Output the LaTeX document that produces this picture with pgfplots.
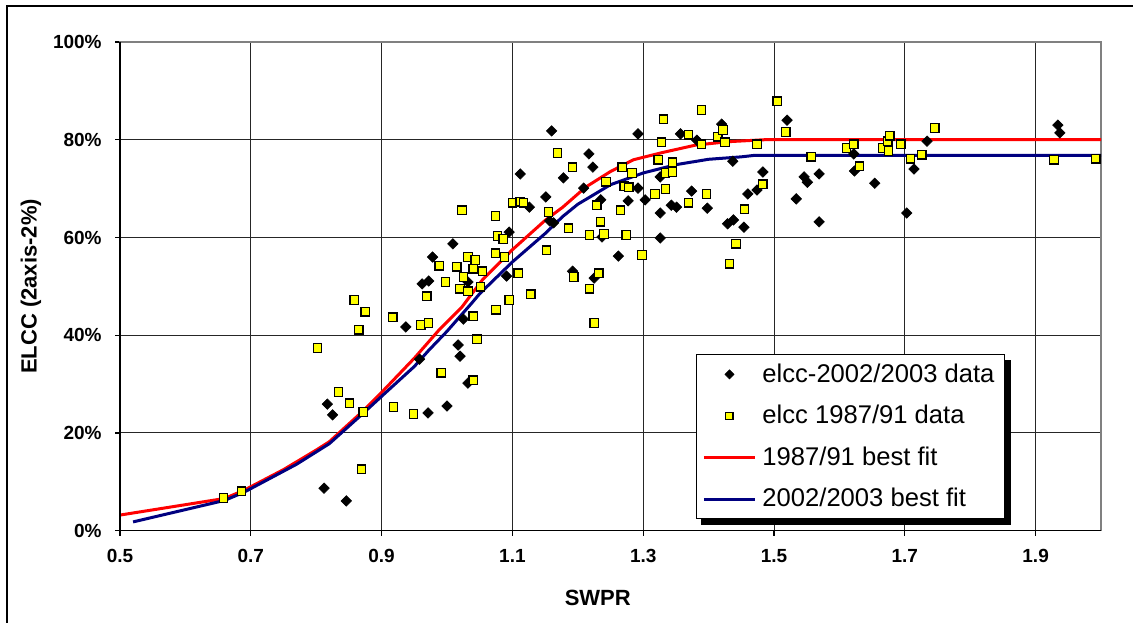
\documentclass[border=0pt]{standalone}
\usepackage{fontspec}
\setmainfont{Liberation Sans}
\usepackage{pgfplots}
\pgfplotsset{compat=1.18}

\definecolor{fitred}{RGB}{255,0,0}
\definecolor{fitblue}{RGB}{0,0,128}
\definecolor{mkyellow}{RGB}{255,255,0}

\begin{document}
\begin{tikzpicture}
\useasboundingbox (0,0) rectangle (566.5pt,311pt);
% chart area frame (only left and top edges are inside the picture)
\draw[line width=0.7pt] (3.5pt,-2pt) -- (3.5pt,308pt) -- (570pt,308pt);
\begin{axis}[
    at={(60pt,45.65pt)}, anchor=south west,
    scale only axis, width=490.5pt, height=244.35pt,
    xmin=0.5, xmax=2.0, ymin=0, ymax=100,
    xtick={0.5,0.7,0.9,1.1,1.3,1.5,1.7,1.9},
    ytick={0,20,40,60,80,100},
    yticklabel={\pgfmathprintnumber{\tick}\%},
    /pgf/number format/assume math mode=true,
    tick label style={font=\bfseries\fontsize{9.5}{11}\selectfont},
    xticklabel style={inner sep=0pt, anchor=north, yshift=-6.7pt},
    yticklabel style={inner sep=0pt, anchor=east, xshift=-6.5pt},
    tick align=outside, major tick length=2.5pt,
    xtick pos=bottom, ytick pos=left,
    tick style={black, line width=0.6pt},
    grid=major,
    major grid style={black!85, line width=0.5pt},
    axis line style={gray, line width=0.7pt},
    clip=false,
    xlabel={SWPR},
    ylabel={ELCC (2axis-2\%)},
    label style={font=\bfseries\fontsize{11}{13}\selectfont},
    xlabel style={at={(axis description cs:0.487,-0.1376)}, anchor=center},
    ylabel style={at={(axis description cs:-0.0907,0.5)}, anchor=center},
    legend image code/.code={\draw[mark repeat=2,mark phase=2,#1] plot coordinates {(0pt,0pt) (12.75pt,0pt) (25.5pt,0pt)};},
    legend style={name=leg, at={(0.587,0.3616)}, anchor=north west,
        draw=black, line width=0.6pt, fill=white,
        font=\fontsize{12.8}{15}\selectfont,
        inner xsep=3pt, inner ysep=2.5pt, row sep=6pt,
        cells={anchor=west},
        /tikz/every odd column/.append style={column sep=1pt}},
]

% 1987/91 best fit
\addplot[fitred, line width=1.5pt, forget plot] coordinates {
    (0.5,3.2) (0.66,6.6) (0.69,8.3) (0.75,12.5) (0.8,16.5) (0.82,18.2)
    (0.87,24.3) (0.9,28.3) (0.95,35.3) (0.988,41.1) (1.023,45.8) (1.054,51.3)
    (1.1,57.5) (1.15,63.5) (1.177,66.2) (1.212,70.3) (1.25,73.5) (1.285,75.9)
    (1.33,77.4) (1.38,78.9) (1.43,79.6) (1.485,80) (2.0,80)
};
% 2002/2003 best fit
\addplot[fitblue, line width=1.5pt, forget plot] coordinates {
    (0.52,1.8) (0.66,6.2) (0.69,7.9) (0.77,13.6) (0.82,17.8) (0.87,23.8)
    (0.9,27.5) (0.95,33.6) (0.972,36.9) (1.0,40.8) (1.038,46.6) (1.05,48.5)
    (1.1,55.0) (1.15,60.8) (1.177,64.3) (1.2,66.8) (1.25,70.8) (1.3,73.2)
    (1.35,74.9) (1.4,76.0) (1.45,76.5) (1.47,76.8) (2.0,76.8)
};

% elcc 2002/2003 data
\addplot[only marks, mark=square*, mark size=1.85pt,
    mark options={rotate=45, fill=black, draw=black, line width=0.3pt},
    legend image post style={mark size=1.6pt}] coordinates {
    (0.812,8.7) (0.846,6.1) (0.817,25.9) (0.825,23.7) (0.937,41.7) (0.958,35.1)
    (0.971,24.1) (1.000,25.5) (0.962,50.5) (0.972,51.1) (0.978,56.0) (1.009,58.7)
    (1.032,50.9) (1.025,43.3) (1.017,38.0) (1.020,35.7) (1.032,30.2) (1.091,52.1)
    (1.095,61.1) (1.112,73.0) (1.126,66.2) (1.151,68.3) (1.157,63.4) (1.163,63.0)
    (1.160,81.8) (1.178,72.2) (1.192,53.1) (1.217,77.1) (1.223,74.4) (1.225,51.7)
    (1.209,70.1) (1.235,67.7) (1.237,60.1) (1.262,56.2) (1.277,67.5) (1.292,70.1)
    (1.292,81.2) (1.303,67.7) (1.326,72.4) (1.326,65.0) (1.326,59.9) (1.343,66.6)
    (1.351,66.2) (1.357,81.2) (1.374,69.5) (1.382,79.9) (1.398,66.0) (1.420,83.2)
    (1.437,75.6) (1.429,62.8) (1.438,63.6) (1.454,62.1) (1.460,68.9) (1.474,69.7)
    (1.483,73.4) (1.520,84.0) (1.534,67.9) (1.546,72.4) (1.551,71.3) (1.569,73.0)
    (1.569,63.2) (1.622,77.1) (1.623,73.6) (1.654,71.1) (1.703,65.0) (1.714,74.0)
    (1.734,79.7) (1.934,83.0) (1.937,81.4)
};
\addlegendentry{elcc-2002/2003 data}

% elcc 1987/91 data
\addplot[only marks, mark=square*, mark size=2.1pt,
    mark options={fill=mkyellow, draw=black, line width=0.6pt},
    legend image post style={mark size=1.8pt}] coordinates {
    (0.658,6.7) (0.686,8.1) (0.802,37.4) (0.834,28.4) (0.851,26.1) (0.872,24.3)
    (0.869,12.6) (0.865,41.1) (0.858,47.2) (0.875,44.8) (0.918,25.3) (0.949,23.9)
    (0.917,43.7) (0.960,42.1) (0.972,42.5) (0.969,48.0) (0.991,32.3) (0.988,54.2)
    (0.998,50.9) (1.015,54.0) (1.023,65.6) (1.025,51.9) (1.020,49.5) (1.032,49.0)
    (1.032,56.0) (1.043,55.4) (1.040,53.6) (1.054,53.1) (1.051,49.9) (1.040,43.9)
    (1.046,39.2) (1.040,30.8) (1.075,45.2) (1.095,47.2) (1.109,52.7) (1.128,48.4)
    (1.074,64.4) (1.077,60.3) (1.086,59.7) (1.074,56.8) (1.088,56.0) (1.100,67.1)
    (1.112,67.3) (1.117,67.1) (1.155,65.2) (1.152,57.4) (1.169,77.3) (1.192,74.4)
    (1.186,61.9) (1.194,51.9) (1.232,52.7) (1.218,49.5) (1.225,42.5) (1.235,63.2)
    (1.240,60.7) (1.218,60.5) (1.274,60.5) (1.229,66.6) (1.265,65.6) (1.243,71.4)
    (1.268,74.4) (1.283,73.2) (1.271,70.5) (1.278,70.3) (1.298,56.4) (1.331,84.2)
    (1.328,79.5) (1.323,75.9) (1.345,75.4) (1.334,73.2) (1.345,73.4) (1.334,69.9)
    (1.318,68.9) (1.369,81.0) (1.389,86.1) (1.389,79.1) (1.369,67.1) (1.397,68.9)
    (1.414,80.6) (1.422,82.0) (1.425,79.5) (1.455,65.8) (1.483,70.9) (1.474,79.1)
    (1.442,58.7) (1.432,54.6) (1.505,87.9) (1.518,81.6) (1.557,76.5) (1.611,78.3)
    (1.622,79.1) (1.631,74.6) (1.666,78.3) (1.674,79.7) (1.677,80.8) (1.675,77.7)
    (1.694,79.1) (1.709,76.1) (1.726,76.9) (1.746,82.4) (1.928,75.9) (1.992,76.1)
};
\addlegendentry{elcc 1987/91 data}

\addlegendimage{fitred, line width=1.5pt}
\addlegendentry{1987/91 best fit}
\addlegendimage{fitblue, line width=1.5pt}
\addlegendentry{2002/2003 best fit}

% plot area: black left and bottom edges
\draw[black, line width=0.7pt] (rel axis cs:0,1) -- (rel axis cs:0,0) -- (rel axis cs:1,0);
\end{axis}
% legend shadow
\fill[black] ([xshift=2.8pt,yshift=-2.8pt]leg.south west) rectangle ([xshift=2.8pt]leg.south east);
\fill[black] (leg.south east) rectangle ([xshift=2.8pt,yshift=-2.8pt]leg.north east);
\end{tikzpicture}
\end{document}
